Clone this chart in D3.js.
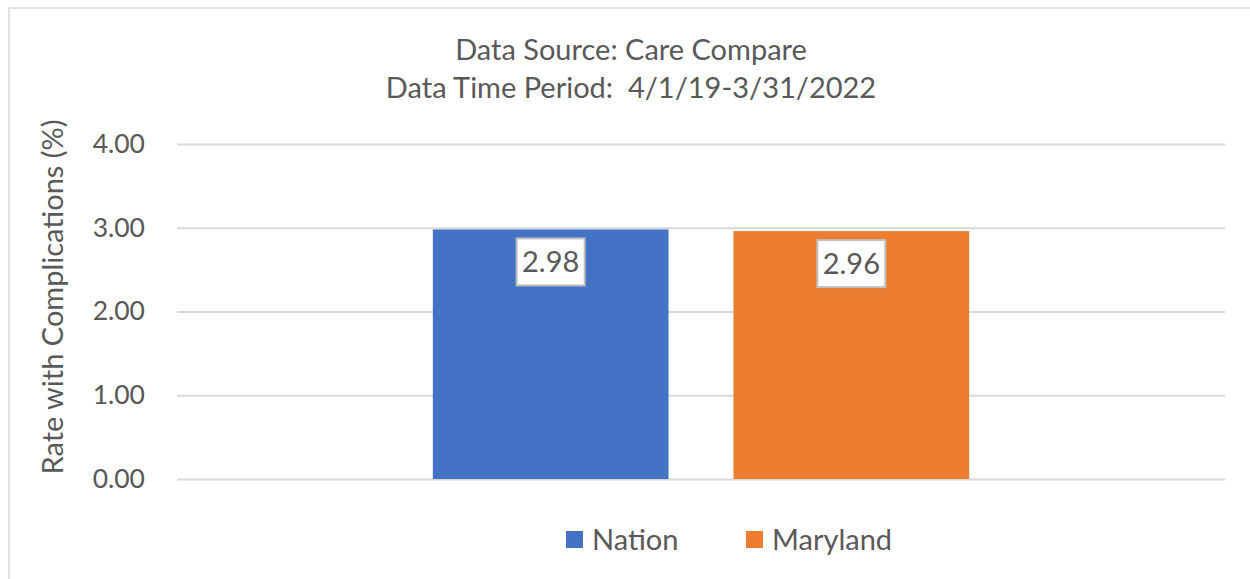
<!DOCTYPE html>
<html>
<head>
<meta charset="utf-8">
<script src="https://cdn.jsdelivr.net/npm/d3@7"></script>
<style>
  body { margin: 0; background: #fff; }
  text { font-family: Lato, "Open Sans", sans-serif; fill: #595959; white-space: pre; }
</style>
</head>
<body>
<svg id="chart" width="1250" height="579"></svg>
<script>
const categories = ["All"];
const seriesNames = ["Nation", "Maryland"];
const seriesValues = [2.98, 2.96];
const yTicks = [0, 1, 2, 3, 4];
const titleLines = ["Data Source: Care Compare", "Data Time Period:  4/1/19-3/31/2022"];
const colors = ["#4472C4", "#ED7D31"];

const svg = d3.select("#chart");
const margin = { top: 144, right: 25, bottom: 100, left: 177 };
const plotRight = 1225;
const plotBottom = 479;

// chart frame (right and bottom edges fall outside the picture)
svg.append("rect")
  .attr("x", 9).attr("y", 8)
  .attr("width", 1260).attr("height", 600)
  .attr("fill", "none")
  .attr("stroke", "#d9d9d9")
  .attr("stroke-width", 1.5);

const x0 = d3.scaleBand()
  .domain(categories)
  .range([margin.left, plotRight])
  .paddingInner(0)
  .paddingOuter(0.477);

const x1 = d3.scaleBand()
  .domain(seriesNames)
  .range([0, x0.bandwidth()])
  .paddingInner(0.216);

const y = d3.scaleLinear()
  .domain([0, 4])
  .range([plotBottom, margin.top]);

// gridlines + tick labels
const yAxis = svg.append("g")
  .attr("transform", `translate(${margin.left},0)`)
  .call(d3.axisLeft(y)
    .tickValues(yTicks)
    .tickSize(-(plotRight - margin.left))
    .tickPadding(32)
    .tickFormat(d3.format(".2f")));
yAxis.select(".domain").remove();
yAxis.selectAll("line").attr("stroke", "#d9d9d9").attr("stroke-width", 2);
yAxis.selectAll("text")
  .style("font-size", "26.5px")
  .attr("fill", "#595959");

// axis title
svg.append("text")
  .attr("transform", `translate(63,297) rotate(-90)`)
  .attr("text-anchor", "middle")
  .style("font-size", "29px")
  .text("Rate with Complications (%)");

// chart title
svg.selectAll(".title")
  .data(titleLines)
  .enter()
  .append("text")
  .attr("class", "title")
  .attr("x", 631)
  .attr("y", (d, i) => 60 + i * 38)
  .attr("text-anchor", "middle")
  .style("font-size", "29px")
  .text(d => d);

// bars
const data = seriesNames.map((name, i) => ({ name, value: seriesValues[i], color: colors[i] }));
const g = svg.append("g").attr("transform", `translate(${x0(categories[0])},0)`);

g.selectAll("rect.bar")
  .data(data)
  .enter()
  .append("rect")
  .attr("class", "bar")
  .attr("x", d => x1(d.name))
  .attr("y", d => y(d.value))
  .attr("width", x1.bandwidth())
  .attr("height", d => plotBottom - y(d.value))
  .attr("fill", d => d.color);

// data labels with boxes
const labels = g.selectAll("g.lbl")
  .data(data)
  .enter()
  .append("g")
  .attr("class", "lbl")
  .attr("transform", d => `translate(${x1(d.name) + x1.bandwidth() / 2},${y(d.value) + 9})`);

labels.append("rect")
  .attr("x", -34).attr("y", 0)
  .attr("width", 68).attr("height", 47)
  .attr("fill", "#fff")
  .attr("stroke", "#bfbfbf")
  .attr("stroke-width", 2);

labels.append("text")
  .attr("y", 34)
  .attr("text-anchor", "middle")
  .style("font-size", "29px")
  .text(d => d3.format(".2f")(d.value));

// legend
const legendX = [566, 746];
const legend = svg.selectAll("g.legend")
  .data(data)
  .enter()
  .append("g")
  .attr("class", "legend")
  .attr("transform", (d, i) => `translate(${legendX[i]},531)`);

legend.append("rect")
  .attr("width", 17).attr("height", 17)
  .attr("fill", d => d.color);

legend.append("text")
  .attr("x", 26)
  .attr("y", 19)
  .style("font-size", "29px")
  .text(d => d.name);
</script>
</body>
</html>
